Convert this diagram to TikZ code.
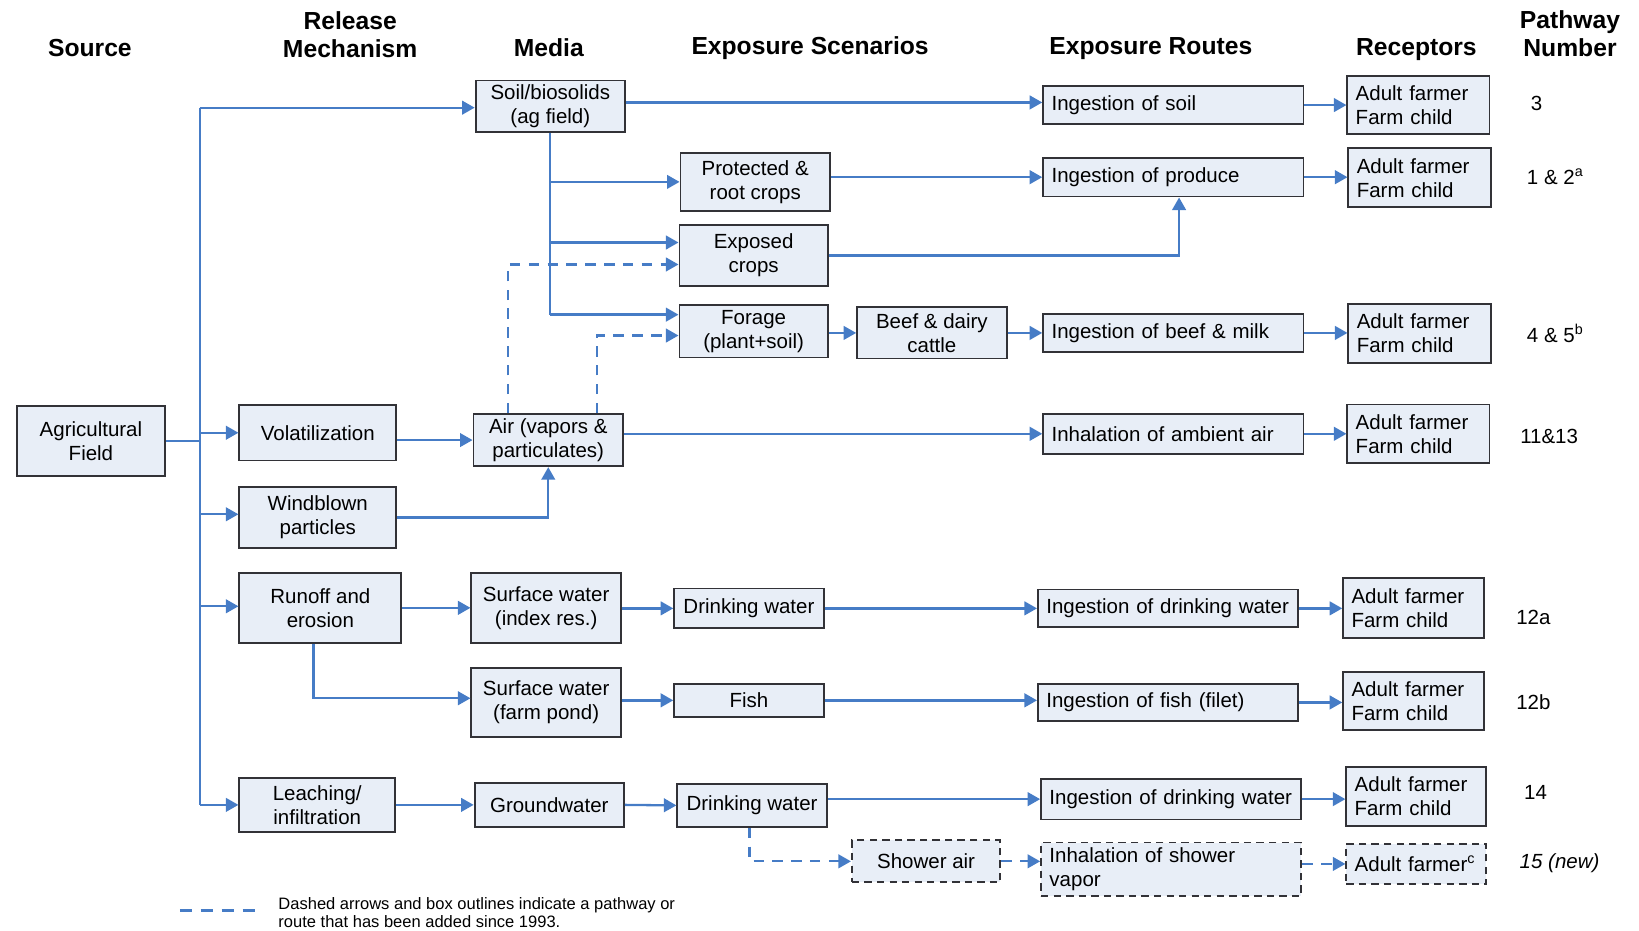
\documentclass[tikz,border=0pt]{standalone}
\usepackage{fontspec}
\setmainfont{Liberation Sans}
\usetikzlibrary{arrows.meta}
\definecolor{arrowblue}{RGB}{70,124,198}
\definecolor{boxfill}{RGB}{232,238,247}
\definecolor{boxline}{RGB}{50,50,55}
\tikzset{
  box/.style={draw=boxline, line width=0.9pt, fill=boxfill, inner sep=0pt, align=center,
    font=\fontsize{9.8}{11.5}\selectfont},
  lbox/.style={box, align=left, inner xsep=4pt},
  dbox/.style={dash pattern=on 3.5pt off 2.5pt},
  hdr/.style={font=\fontsize{11.8}{13.5}\selectfont\bfseries, align=center},
  pnum/.style={font=\fontsize{9.8}{11.5}\selectfont},
  conn/.style={draw=arrowblue, line width=1.1pt, -{Triangle[length=6pt,width=6.5pt]}},
  plain/.style={draw=arrowblue, line width=1.1pt},
  dconn/.style={conn, dash pattern=on 5pt off 4pt},
}
\begin{document}
\begin{tikzpicture}[x=0.5pt,y=-0.5pt]
\useasboundingbox (0,0) rectangle (1568,890);
% headers
\node[hdr] (h1) at (86,46) {Source};
\node[hdr] (h2) at (335,33) {Release\\Mechanism};
\node[hdr] (h3) at (525,46) {Media};
\node[hdr] (h4) at (775,46) {Exposure Scenarios};
\node[hdr] (h5) at (1101,46) {Exposure Routes};
\node[hdr] (h6) at (1355,47) {Receptors};
\node[hdr] (h7) at (1502,32) {Pathway\\Number};
% source & release
\node[box, minimum width=71pt, minimum height=33.5pt] (af) at (87,422) {Agricultural\\Field};
\node[box, minimum width=75pt, minimum height=26.5pt] (vol) at (304,414) {Volatilization};
\node[box, minimum width=75pt, minimum height=29pt] (wind) at (304,495) {Windblown\\particles};
\node[box, minimum width=77.5pt, minimum height=33.5pt] (run) at (306.5,581.5) {Runoff and\\erosion};
\node[box, minimum width=74.5pt, minimum height=26pt] (leach) at (303.5,770) {Leaching/\\infiltration};
% media
\node[box, minimum width=71.5pt, minimum height=24.5pt] (soil) at (526.5,101.5) {Soil/biosolids\\(ag field)};
\node[box, minimum width=71.5pt, minimum height=25pt] (air) at (524.5,421) {Air (vapors \&\\particulates)};
\node[box, minimum width=71.5pt, minimum height=33.5pt] (swi) at (522.5,581.5) {Surface water\\(index res.)};
\node[box, minimum width=71.5pt, minimum height=33pt] (swp) at (522.5,672) {Surface water\\(farm pond)};
\node[box, minimum width=71.5pt, minimum height=21pt] (gw) at (525.5,770) {Groundwater};
% scenarios
\node[box, minimum width=71.5pt, minimum height=28pt] (prot) at (722.5,174) {Protected \&\\root crops};
\node[box, minimum width=71pt, minimum height=29.5pt] (expo) at (721,244.5) {Exposed\\crops};
\node[box, minimum width=71pt, minimum height=25pt] (forage) at (721,317) {Forage\\(plant+soil)};
\node[box, minimum width=71.5pt, minimum height=24.5pt] (beef) at (891.5,318.5) {Beef \& dairy\\cattle};
\node[box, minimum width=71.5pt, minimum height=19pt] (dwa) at (716.5,582) {Drinking water};
\node[box, minimum width=71.5pt, minimum height=16pt] (fish) at (716.5,670) {Fish};
\node[box, minimum width=71.5pt, minimum height=20.5pt] (dwb) at (719.5,770.5) {Drinking water};
\node[box, dbox, minimum width=71pt, minimum height=20pt] (shower) at (886,824) {Shower air};
% routes
\node[lbox, text width=116.5pt, minimum height=18.5pt] (rsoil) at (1122.5,100.5) {Ingestion of soil};
\node[lbox, text width=116.5pt, minimum height=18.5pt] (rprod) at (1122.5,169.5) {Ingestion of produce};
\node[lbox, text width=116.5pt, minimum height=18.5pt] (rbeef) at (1122.5,318.5) {Ingestion of beef \& milk};
\node[lbox, text width=116.5pt, minimum height=19pt] (rair) at (1122.5,415) {Inhalation of ambient air};
\node[lbox, text width=116.5pt, minimum height=18pt] (rdwa) at (1117.5,582) {Ingestion of drinking water};
\node[lbox, text width=116.5pt, minimum height=18pt] (rfish) at (1117.5,672) {Ingestion of fish (filet)};
\node[lbox, text width=116.5pt, minimum height=19.5pt] (rdwb) at (1120.5,764.5) {Ingestion of drinking water};
\node[lbox, dbox, text width=116.5pt, minimum height=25.5pt] (rshow) at (1120.5,831.5) {Inhalation of shower\\vapor};
% receptors
\node[lbox, text width=60pt, minimum height=27.5pt] (c1) at (1357,100.5) {Adult farmer\\Farm child};
\node[lbox, text width=60pt, minimum height=28pt] (c2) at (1358,170) {Adult farmer\\Farm child};
\node[lbox, text width=60pt, minimum height=28pt] (c3) at (1358,319) {Adult farmer\\Farm child};
\node[lbox, text width=60pt, minimum height=28pt] (c4) at (1357,415) {Adult farmer\\Farm child};
\node[lbox, text width=59.5pt, minimum height=28.5pt] (c5) at (1352.5,581.5) {Adult farmer\\Farm child};
\node[lbox, text width=59.5pt, minimum height=27.5pt] (c6) at (1352.5,670.5) {Adult farmer\\Farm child};
\node[lbox, text width=59pt, minimum height=28pt] (c7) at (1355,762) {Adult farmer\\Farm child};
\node[lbox, dbox, text width=59pt, minimum height=19.5pt] (c8) at (1355,826.5) {Adult farmer\textsuperscript{c}};
% pathway numbers
\node[pnum] (p1) at (1470,99) {3};
\node[pnum] (p2) at (1488,169) {1 \& 2\textsuperscript{a}};
\node[pnum] (p3) at (1488,319) {4 \& 5\textsuperscript{b}};
\node[pnum] (p4) at (1482,418) {11\&13};
\node[pnum] (p5) at (1467,591) {12a};
\node[pnum] (p6) at (1467,672) {12b};
\node[pnum] (p7) at (1469,758) {14};
\node[pnum] (p8) at (1492,826) {\itshape 15 (new)};
% trunk
\coordinate (tTop) at (191,103);
\coordinate (tBot) at (191,770);
\draw[plain] (af.east) -- (af.east -| tTop);
\draw[plain] (tTop) -- (tBot);
\draw[conn] (tTop) -- (tTop -| soil.west);
\draw[conn] (191,414) -- (vol.west);
\draw[conn] (191,492) -- (wind.west |- 0,492);
\draw[conn] (191,580) -- (run.west |- 0,580);
\draw[conn] (tBot) -- (leach.west);
% release -> media
\draw[conn] (vol.east |- air.west) -- (air.west);
\draw[conn] (wind.east) -| (air.south);
\draw[conn] (run.east |- swi.west) -- (swi.west);
\coordinate (rb) at (300,0);
\draw[conn] (rb |- run.south) |- (swp.west |- 0,668);
\draw[conn] (leach.east) -- (gw.west);
% soil branches
\coordinate (sb) at (526,301);
\draw[plain] (soil.south -| sb) -- (sb);
\draw[conn] (sb |- prot.west) -- (prot.west);
\draw[conn] (526,232) -- (expo.west |- 0,232);
\draw[conn] (sb) -- (forage.west |- sb);
% dashed from air
\draw[dconn] (air.north -| 486,0) |- (expo.west |- 0,253);
\draw[dconn] (air.north -| 571,0) |- (forage.west |- 0,321);
% media -> scenarios
\draw[conn] (soil.east |- 0,98) -- (rsoil.west |- 0,98);
\draw[conn] (prot.east |- rprod.west) -- (rprod.west);
\draw[conn] (expo.east) -| (rprod.south -| 1128,0);
\draw[conn] (forage.east |- beef.west) -- (beef.west);
\draw[conn] (beef.east) -- (rbeef.west);
\draw[conn] (air.east |- rair.west) -- (rair.west);
\draw[conn] (swi.east |- dwa.west) -- (dwa.west);
\draw[conn] (swp.east |- fish.west) -- (fish.west);
\draw[conn] (dwa.east) -- (rdwa.west);
\draw[conn] (fish.east) -- (rfish.west |- fish.east);
\draw[conn] (gw.east) -- (dwb.west);
\draw[conn] (dwb.east |- rdwb.west) -- (rdwb.west);
\draw[dconn] (dwb.south -| 717,0) |- (shower.west);
\draw[dconn] (shower.east) -- (rshow.west |- shower.east);
% routes -> receptors
\draw[conn] (rsoil.east) -- (c1.west |- rsoil.east);
\draw[conn] (rprod.east) -- (c2.west |- rprod.east);
\draw[conn] (rbeef.east) -- (c3.west |- rbeef.east);
\draw[conn] (rair.east) -- (c4.west |- rair.east);
\draw[conn] (rdwa.east) -- (c5.west |- rdwa.east);
\draw[conn] (rfish.east) -- (c6.west |- rfish.east);
\draw[conn] (rdwb.east) -- (c7.west |- rdwb.east);
\draw[dconn] (rshow.east |- c8.west) -- (c8.west);
% legend
\coordinate (lg1) at (172,871);
\coordinate (lg2) at (248,871);
\draw[plain, dash pattern=on 6pt off 4pt] (lg1) -- (lg2);
\node[anchor=west, align=left, inner sep=0pt, font=\fontsize{7.9}{9}\selectfont] (legend) at (266,873) {Dashed arrows and box outlines indicate a pathway or\\route that has been added since 1993.};
\end{tikzpicture}
\end{document}
